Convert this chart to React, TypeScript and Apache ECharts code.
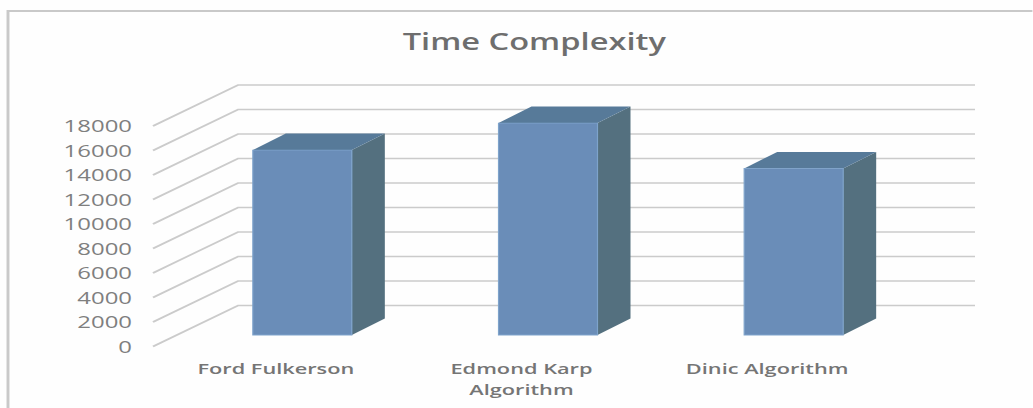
import React, { useEffect, useRef } from "react";
import * as echarts from "echarts";

const categories = ["Ford Fulkerson", "Edmond Karp\nAlgorithm", "Dinic Algorithm"];
const timeComplexity = [15100, 17300, 13600];
const gridTicks = [0, 2000, 4000, 6000, 8000, 10000, 12000, 14000, 16000, 18000];

// The chart is laid out narrow and widened by this factor, which gives the wide lettering.
const STRETCH = 1.45;
const PAGE_W = 1033;
const PAGE_H = 408;
const px = (x: number) => x / STRETCH;

// Oblique depth of the walls and of the bars.
const WALL_DX = px(85);
const WALL_DY = 41;
const BAR_SHIFT_X = px(26.5);
const BAR_SHIFT_Y = 11.5;
const BAR_HALF = px(49.5);
const BAR_DX = px(33);
const BAR_DY = 16.5;

const renderGridLine = (params: any, api: any) => {
  const y = api.coord([0, api.value(0)])[1];
  const left = params.coordSys.x;
  const right = left + params.coordSys.width + WALL_DX;
  return {
    type: "polyline",
    silent: true,
    shape: { points: [[left, y], [left + WALL_DX, y - WALL_DY], [right, y - WALL_DY]] },
    style: { fill: "none", stroke: "#cbcbcb", lineWidth: 1.6 },
  };
};

const renderBar = (_params: any, api: any) => {
  const [cx, top0] = api.coord([api.value(0), api.value(1)]);
  const base0 = api.coord([api.value(0), 0])[1];
  const l = cx + BAR_SHIFT_X - BAR_HALF;
  const r = cx + BAR_SHIFT_X + BAR_HALF;
  const top = top0 - BAR_SHIFT_Y;
  const base = base0 - BAR_SHIFT_Y;
  return {
    type: "group",
    children: [
      {
        type: "polygon",
        shape: { points: [[r, top], [r + BAR_DX, top - BAR_DY], [r + BAR_DX, base - BAR_DY], [r, base]] },
        style: { fill: "#54707f" },
      },
      {
        type: "polygon",
        shape: { points: [[l, top], [l + BAR_DX, top - BAR_DY], [r + BAR_DX, top - BAR_DY], [r, top]] },
        style: { fill: "#577a99" },
      },
      {
        type: "rect",
        shape: { x: l, y: top, width: r - l, height: base - top },
        style: { fill: "#6a8db8", stroke: "#7ea3cb", lineWidth: 0.8 },
      },
    ],
  };
};

export default function App() {
  const ref = useRef<HTMLDivElement>(null);

  useEffect(() => {
    const chart = echarts.init(ref.current!, null, { renderer: "svg" });
    chart.setOption({
      animation: false,
      backgroundColor: "#fefefe",
      title: {
        text: "Time Complexity",
        left: px(527),
        textAlign: "center",
        top: 25,
        textStyle: { fontFamily: "Open Sans", fontSize: 22.5, fontWeight: 600, color: "#6e6e6e" },
      },
      graphic: [
        {
          type: "polyline",
          silent: true,
          shape: { points: [[px(1040), 11], [px(8), 11], [px(8), 415]] },
          style: { fill: "none", stroke: "#c9c9c9", lineWidth: 2 },
        },
      ],
      grid: { left: px(153), width: px(737), top: 126, height: 220.5 },
      xAxis: {
        type: "category",
        data: categories,
        axisLine: { show: false },
        axisTick: { show: false },
        axisLabel: {
          interval: 0,
          margin: 11,
          lineHeight: 21,
          fontFamily: "Open Sans",
          fontSize: 15,
          fontWeight: 600,
          color: "#757575",
        },
      },
      yAxis: {
        type: "value",
        min: 0,
        max: 18000,
        interval: 2000,
        splitLine: { show: false },
        axisLine: { show: false },
        axisTick: { show: false },
        axisLabel: {
          margin: px(21),
          formatter: (v: number) => String(v),
          fontFamily: "Open Sans",
          fontSize: 16.5,
          fontWeight: 500,
          color: "#7f7f7f",
        },
      },
      series: [
        {
          type: "custom",
          renderItem: renderGridLine,
          data: gridTicks.map((v) => [v]),
          encode: { y: 0 },
          silent: true,
          z: 1,
        },
        {
          type: "custom",
          renderItem: renderBar,
          data: timeComplexity.map((v, i) => [i, v]),
          encode: { x: 0, y: 1 },
          z: 2,
        },
      ],
    });
    return () => chart.dispose();
  }, []);

  return (
    <div style={{ position: "fixed", left: 0, top: 0, width: PAGE_W, height: PAGE_H, overflow: "hidden" }}>
      <div
        ref={ref}
        style={{
          width: px(PAGE_W),
          height: PAGE_H,
          transform: `scaleX(${STRETCH})`,
          transformOrigin: "0 0",
        }}
      />
    </div>
  );
}
